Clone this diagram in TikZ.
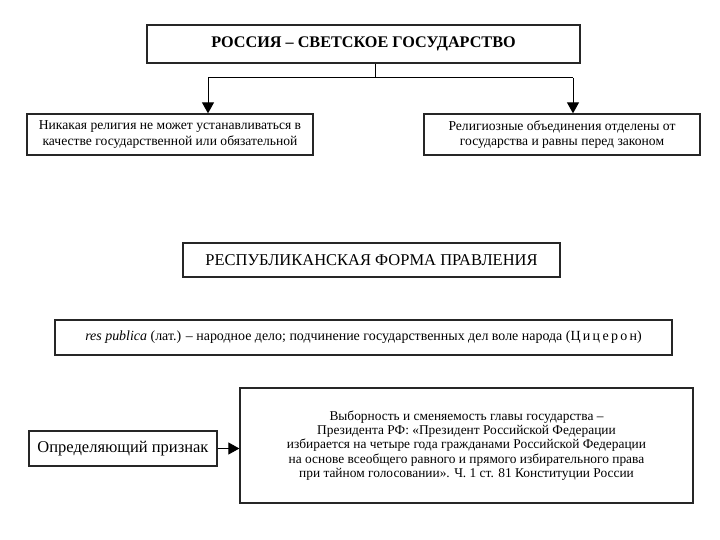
\documentclass[tikz,border=0pt]{standalone}
\usepackage{fontspec}
\setmainfont{Liberation Serif}
\usetikzlibrary{arrows.meta,calc}
\begin{document}
\begin{tikzpicture}[x=1pt,y=-1pt,
  box/.style={draw=black!85,line width=1.3pt,inner sep=2pt,align=center,fill=white},
  arr/.style={line width=1pt,-{Triangle[width=12pt,length=11pt]}}]
\useasboundingbox (0,0) rectangle (720,540);
\node[box,minimum width=433pt,minimum height=38pt,font=\bfseries\fontsize{16.2}{19}\selectfont] (top) at (363.5,44) {РОССИЯ – СВЕТСКОЕ ГОСУДАРСТВО};
\node[box,minimum width=286pt,minimum height=41pt,font=\fontsize{13.6}{15.5}\selectfont] (l) at (170,134.5) {Никакая религия не может устанавливаться в\\качестве государственной или обязательной};
\node[box,minimum width=276pt,minimum height=41pt,font=\fontsize{13.6}{15.5}\selectfont] (r) at (562,134.5) {Религиозные объединения отделены от\\государства и равны перед законом};
\coordinate (j) at (375,78);
\coordinate (hl) at (208,78);
\coordinate (hr) at (573,78);
\draw[line width=1pt] (top.south -| j) -- (j);
\draw[line width=1pt] (hl) -- (hr);
\draw[arr] (hl) -- (hl |- l.north);
\draw[arr] (hr) -- (hr |- r.north);
\node[box,minimum width=377pt,minimum height=34pt,font=\fontsize{16.5}{19}\selectfont] (rep) at (371.5,260) {РЕСПУБЛИКАНСКАЯ ФОРМА ПРАВЛЕНИЯ};
\node[box,minimum width=617pt,minimum height=35pt,font=\fontsize{13.95}{16}\selectfont] (res) at (363.5,337.5) {\textit{res publica} (лат.) – народное дело; подчинение государственных дел воле народа (Ц\,и\,ц\,е\,р\,о\,н)};
\node[box,minimum width=188pt,minimum height=35pt,font=\fontsize{16.5}{19}\selectfont] (def) at (123,448.5) {Определяющий признак};
\node[box,minimum width=453pt,minimum height=115pt,font=\fontsize{13.4}{14.3}\selectfont] (big) at (466.5,445.5) {Выборность и сменяемость главы государства –\\Президента РФ: «Президент Российской Федерации\\избирается на четыре года гражданами Российской Федерации\\на основе всеобщего равного и прямого избирательного права\\при тайном голосовании». Ч. 1 ст. 81 Конституции России};
\draw[arr] (def.east) -- (def.east -| big.west);
\end{tikzpicture}
\end{document}
